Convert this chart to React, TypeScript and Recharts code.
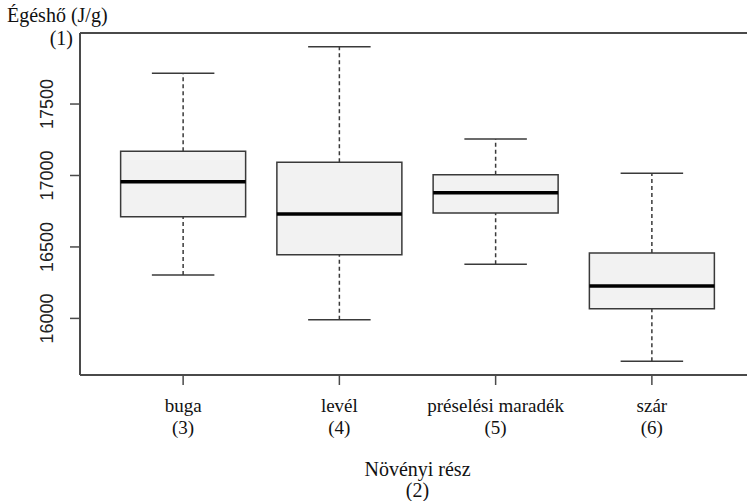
import React from "react";
import {
  ComposedChart,
  XAxis,
  YAxis,
  Scatter,
  ReferenceArea,
  ReferenceLine,
  Label,
} from "recharts";

const categories = ["buga", "levél", "préselési maradék", "szár"];
const codes = ["(3)", "(4)", "(5)", "(6)"];
const whiskerLow = [16304, 15991, 16379, 15700];
const q1 = [16712, 16446, 16737, 16068];
const median = [16956, 16730, 16879, 16227];
const q3 = [17169, 17092, 17005, 16458];
const whiskerHigh = [17715, 17901, 17255, 17015];
const yTicks = [16000, 16500, 17000, 17500];
const xTicks = [1, 2, 3, 4];
const Y_DOMAIN: [number, number] = [15604, 17997];
const X_DOMAIN: [number, number] = [0.34, 4.66];

const yTitle = "Égéshő (J/g)";
const yCode = "(1)";
const xTitle = "Növényi rész";
const xCode = "(2)";

const data = categories.map((c, i) => ({
  x: i + 1,
  name: c,
  code: codes[i],
  low: whiskerLow[i],
  q1: q1[i],
  median: median[i],
  q3: q3[i],
  high: whiskerHigh[i],
}));

const SERIF = "Liberation Serif, Times New Roman, Times, DejaVu Serif, serif";
const SANS = "Liberation Sans, Arial, sans-serif";
const LINE = "#3a3a3a";
const FRAME = "#4a4a4a";

const XTick = (props: any) => {
  const { x, y, payload } = props;
  const i = Math.round(payload.value) - 1;
  return (
    <g>
      <text x={x} y={y + 27} textAnchor="middle" style={{ fontFamily: SERIF }} fontSize={19} fill="#111">
        {categories[i]}
      </text>
      <text x={x} y={y + 49} textAnchor="middle" style={{ fontFamily: SERIF }} fontSize={19} fill="#111">
        {codes[i]}
      </text>
    </g>
  );
};

const YTick = (props: any) => {
  const { x, y, payload } = props;
  const bx = x - 17;
  return (
    <text
      x={bx}
      y={y}
      transform={`rotate(-90 ${bx} ${y})`}
      textAnchor="middle"
      style={{ fontFamily: SANS }}
      fontSize={18}
      fill="#222"
    >
      {payload.value}
    </text>
  );
};

const XTitle = (props: any) => {
  const vb = props.viewBox || {};
  const cx = vb.x + vb.width / 2;
  return (
    <g>
      <text x={cx} y={vb.y + 101} textAnchor="middle" style={{ fontFamily: SERIF }} fontSize={20} fill="#111">
        {xTitle}
      </text>
      <text x={cx} y={vb.y + 122} textAnchor="middle" style={{ fontFamily: SERIF }} fontSize={20} fill="#111">
        {xCode}
      </text>
    </g>
  );
};

export default function App() {
  return (
    <div
      style={{
        position: "absolute",
        left: 0,
        top: 0,
        width: 747,
        height: 501,
        overflow: "hidden",
        background: "#fff",
      }}
    >
      <ComposedChart
        width={770}
        height={501}
        data={data}
        margin={{ top: 33, right: 15, left: 0, bottom: 0 }}
      >
        <XAxis
          type="number"
          dataKey="x"
          domain={X_DOMAIN}
          ticks={xTicks}
          allowDataOverflow
          height={126}
          tickSize={10}
          tickMargin={0}
          axisLine={{ stroke: FRAME, strokeWidth: 2 }}
          tickLine={{ stroke: FRAME, strokeWidth: 1.5 }}
          tick={<XTick />}
          interval={0}
        >
          <Label content={<XTitle />} position="insideBottom" />
        </XAxis>
        <YAxis
          type="number"
          domain={Y_DOMAIN}
          ticks={yTicks}
          allowDataOverflow
          width={80}
          tickSize={10}
          tickMargin={0}
          axisLine={{ stroke: FRAME, strokeWidth: 2 }}
          tickLine={{ stroke: FRAME, strokeWidth: 1.5 }}
          tick={<YTick />}
          interval={0}
        />
        <ReferenceLine y={Y_DOMAIN[1]} stroke={FRAME} strokeWidth={2} ifOverflow="visible" />
        {data.map((d) => (
          <ReferenceArea
            key={"box" + d.x}
            x1={d.x - 0.4}
            x2={d.x + 0.4}
            y1={d.q1}
            y2={d.q3}
            fill="#f2f2f2"
            fillOpacity={1}
            stroke={LINE}
            strokeWidth={1.5}
            ifOverflow="visible"
          />
        ))}
        {data.map((d) => (
          <ReferenceLine
            key={"wu" + d.x}
            segment={[
              { x: d.x, y: d.q3 },
              { x: d.x, y: d.high },
            ]}
            stroke={LINE}
            strokeWidth={1.5}
            strokeDasharray="4 3"
            ifOverflow="visible"
          />
        ))}
        {data.map((d) => (
          <ReferenceLine
            key={"wl" + d.x}
            segment={[
              { x: d.x, y: d.low },
              { x: d.x, y: d.q1 },
            ]}
            stroke={LINE}
            strokeWidth={1.5}
            strokeDasharray="4 3"
            ifOverflow="visible"
          />
        ))}
        {data.map((d) => (
          <ReferenceLine
            key={"cu" + d.x}
            segment={[
              { x: d.x - 0.2, y: d.high },
              { x: d.x + 0.2, y: d.high },
            ]}
            stroke={LINE}
            strokeWidth={1.5}
            ifOverflow="visible"
          />
        ))}
        {data.map((d) => (
          <ReferenceLine
            key={"cl" + d.x}
            segment={[
              { x: d.x - 0.2, y: d.low },
              { x: d.x + 0.2, y: d.low },
            ]}
            stroke={LINE}
            strokeWidth={1.5}
            ifOverflow="visible"
          />
        ))}
        {data.map((d) => (
          <ReferenceLine
            key={"md" + d.x}
            segment={[
              { x: d.x - 0.4, y: d.median },
              { x: d.x + 0.4, y: d.median },
            ]}
            stroke="#000"
            strokeWidth={3.5}
            ifOverflow="visible"
          />
        ))}
        <Scatter dataKey="median" isAnimationActive={false} shape={() => <g />} />
      </ComposedChart>
      <div
        style={{
          position: "absolute",
          left: 7,
          top: 3,
          fontFamily: SERIF,
          fontSize: 20,
          color: "#111",
          lineHeight: "24px",
          whiteSpace: "nowrap",
        }}
      >
        {yTitle}
      </div>
      <div
        style={{
          position: "absolute",
          right: 747 - 73,
          top: 27,
          fontFamily: SERIF,
          fontSize: 20,
          color: "#111",
          lineHeight: "22px",
          whiteSpace: "nowrap",
        }}
      >
        {yCode}
      </div>
    </div>
  );
}
